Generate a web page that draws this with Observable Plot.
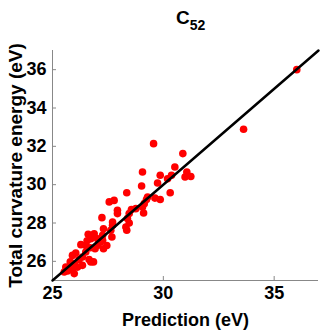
<!DOCTYPE html>
<html>
<head>
<meta charset="utf-8">
<script src="https://cdn.jsdelivr.net/npm/d3@7"></script>
<script src="https://cdn.jsdelivr.net/npm/@observablehq/plot@0.6"></script>
<style>
  html, body { margin: 0; padding: 0; background: #fff; }
  #title { height: 40px; width: 332px; position: relative; font-family: "Liberation Sans", Arial, sans-serif; font-weight: bold; color: #000; }
  #title span { position: absolute; left: 176px; top: 7px; font-size: 19px; line-height: 22px; }
  #title sub { font-size: 14px; vertical-align: -6px; line-height: 0; }
</style>
</head>
<body>
<div id="title"><span>C<sub>52</sub></span></div>
<div id="chart"></div>
<script>
// Prediction (eV)
const prediction = [
  36.02, 33.62, 29.56, 30.88, 29.06, 30.52, 29.86, 30.37, 30.19, 31.06,
  31.24, 30.98, 29.74, 29.02, 28.35, 30.31, 29.62, 29.86, 29.24, 29.14,
  27.78, 27.56, 29.06, 28.76, 29.11, 27.93, 27.93, 28.46, 28.38, 28.46,
  28.35, 28.31, 27.23, 27.71, 27.30, 27.63, 27.68, 27.26, 26.88, 26.61,
  26.73, 27.26, 27.30, 27.03, 26.28, 26.50, 26.70, 26.92, 26.50, 26.05,
  25.90, 26.35, 26.20, 26.65, 26.73, 26.85, 25.80, 25.98, 26.35, 25.60,
  25.90, 25.68, 25.98, 25.53, 26.13, 26.56, 27.03, 27.45, 27.15, 27.71,
  28.56, 29.29
];
// Total curvature energy (eV)
const energy = [
  36.00, 32.89, 32.14, 31.62, 30.66, 30.92, 30.49, 30.49, 30.31, 30.66,
  30.43, 30.40, 30.09, 29.93, 29.58, 29.58, 29.30, 29.23, 29.23, 29.01,
  29.18, 29.10, 28.83, 28.75, 28.52, 28.66, 28.49, 28.49, 28.23, 28.00,
  27.62, 27.79, 28.28, 28.05, 27.70, 27.62, 27.27, 27.36, 27.44, 27.41,
  27.18, 27.10, 26.66, 26.83, 26.87, 26.83, 26.71, 26.66, 26.49, 26.43,
  26.31, 26.23, 26.09, 26.09, 25.97, 25.97, 25.97, 25.88, 25.79, 25.70,
  25.62, 25.50, 25.36, 25.44, 25.70, 27.07, 27.18, 26.83, 27.00, 27.88,
  28.70, 29.36
];
const fitLine = [25, 37];
const xTicks = [25, 30, 35];
const yTicks = [26, 28, 30, 32, 34, 36];

const points = prediction.map((p, i) => ({x: p, y: energy[i]}));

const font = '"Liberation Sans", Arial, sans-serif';

const chart = Plot.plot({
  width: 332,
  height: 292,
  marginTop: 10,
  marginBottom: 52,
  marginLeft: 52,
  marginRight: 14,
  style: {fontFamily: font, fontWeight: "bold", fontSize: "18px", color: "#000", background: "#fff", overflow: "visible"},
  x: {domain: [25, 37], label: null},
  y: {domain: [25, 37], label: null},
  marks: [
    Plot.ruleY([25], {stroke: "#888", strokeWidth: 1}),
    Plot.ruleX([25], {stroke: "#888", strokeWidth: 1}),
    Plot.axisX(xTicks, {tickSize: -4, stroke: "#888", tickPadding: 10, fontSize: 18, fontWeight: "bold", fill: "#000"}),
    Plot.axisY(yTicks, {tickSize: -4, stroke: "#888", tickPadding: 10, fontSize: 18, fontWeight: "bold", fill: "#000"}),
    Plot.dot(points, {x: "x", y: "y", r: 3.8, fill: "#ff0000", stroke: "none"}),
    Plot.line(fitLine, {x: d => d, y: d => d, stroke: "#000", strokeWidth: 2.5}),
    Plot.text(["Prediction (eV)"], {frameAnchor: "bottom", dy: 45, fontSize: 18, fontWeight: "bold", fill: "#000", text: d => d}),
    Plot.text(["Total curvature energy (eV)"], {frameAnchor: "left", dx: -37, rotate: -90, textAnchor: "middle", fontSize: 19, fontWeight: "bold", fill: "#000", text: d => d})
  ]
});
document.getElementById("chart").appendChild(chart);
</script>
</body>
</html>
